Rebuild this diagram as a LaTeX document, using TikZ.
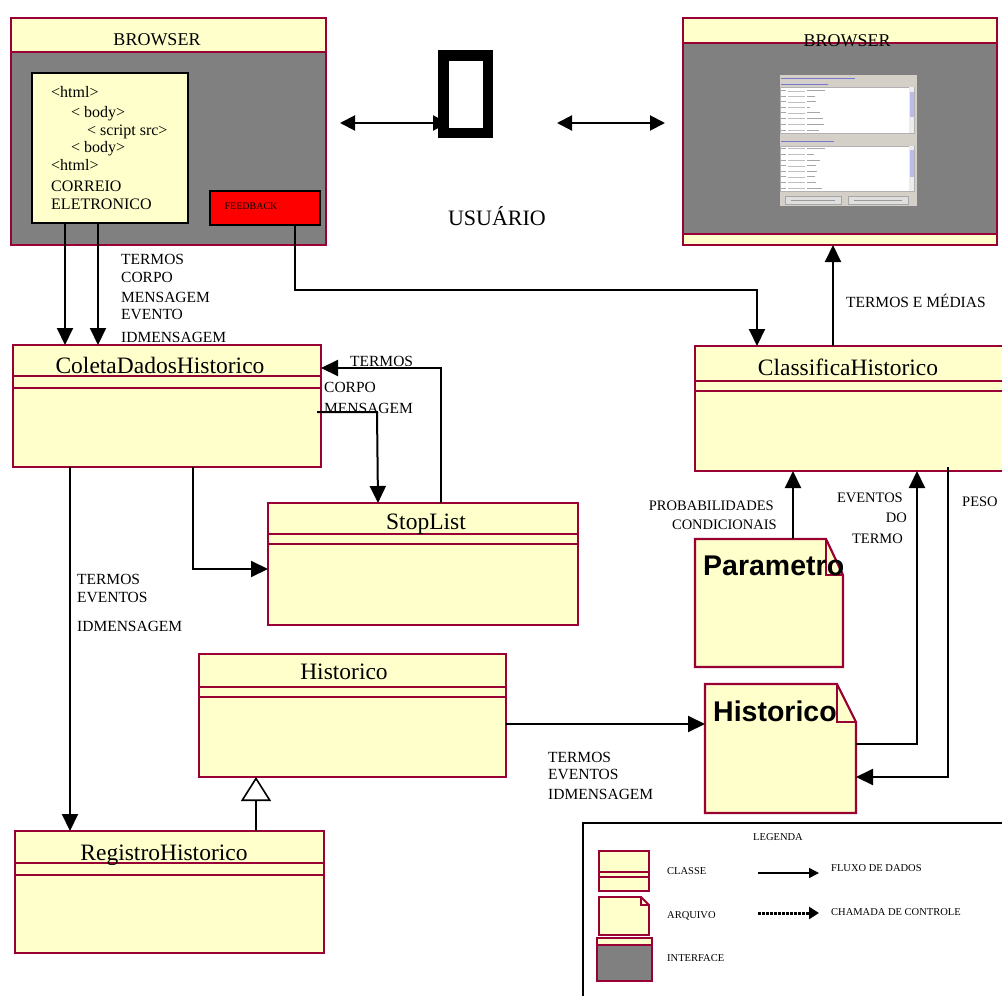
\documentclass[tikz,border=0pt]{standalone}
\usepackage{fontspec}
\setmainfont{Liberation Serif}
\newfontfamily\arialfont{Liberation Sans}
\usetikzlibrary{arrows.meta,calc}

\definecolor{crim}{RGB}{153,0,51}
\definecolor{paleyel}{RGB}{255,255,204}
\definecolor{ifgray}{RGB}{128,128,128}
\definecolor{wingray}{RGB}{212,208,200}
\definecolor{winblue}{RGB}{120,120,210}

\tikzset{
  classbox/.style={draw=crim, fill=paleyel, line width=2.2pt, anchor=north west,
    inner sep=0pt, outer sep=0pt},
  divider/.style={draw=crim, line width=2pt},
  classtitle/.style={anchor=base, inner sep=0pt, font=\fontsize{23.5}{24}\selectfont},
  filetitle/.style={anchor=base west, inner sep=0pt, font=\arialfont\bfseries\fontsize{28.5}{29}\selectfont},
  filebody/.style={draw=crim, fill=paleyel, line width=2.2pt, line join=miter},
  flow/.style={draw=black, line width=2pt, -{Triangle[length=17pt,width=16pt]}},
  twoway/.style={draw=black, line width=2pt, {Triangle[length=15pt,width=15pt]}-{Triangle[length=15pt,width=15pt]}},
  lbl/.style={anchor=base west, inner sep=0pt, font=\fontsize{15.5}{16}\selectfont},
  lblr/.style={anchor=base east, inner sep=0pt, font=\fontsize{14.5}{15}\selectfont},
  codetxt/.style={anchor=base west, inner sep=0pt, font=\fontsize{16}{18}\selectfont},
  legtxt/.style={anchor=base west, inner sep=0pt, font=\fontsize{10.5}{11}\selectfont},
  rowline/.style={draw=gray!70, line width=0.8pt},
}

\begin{document}
\begin{tikzpicture}[x=1pt, y=-1pt]
\path[use as bounding box] (0,0) rectangle (1002,996);
\clip (0,0) rectangle (1002,996);

% ---------- left browser window ----------
\node[classbox, fill=ifgray, minimum width=315, minimum height=227] (brL) at (11,18) {};
\fill[paleyel] (brL.north west) rectangle (brL.east |- 0,52);
\draw[crim, line width=2.2pt] (brL.north west) rectangle (brL.south east);
\draw[divider] (brL.west |- 0,52) -- (brL.east |- 0,52);
\node[anchor=base, inner sep=0pt, font=\fontsize{18}{18}\selectfont] (brLtitle) at (157,45) {BROWSER};

\node[draw=black, fill=paleyel, line width=2pt, anchor=north west, inner sep=0pt,
      minimum width=156, minimum height=150] (html) at (31,72) {};
\foreach \n/\x/\y/\t in {1/51/97/{<html>}, 2/71/117/{< body>}, 3/87/135/{< script src>},
    4/71/152/{< body>}, 5/51/170/{<html>}, 6/51/191/{CORREIO}, 7/51/209/{ELETRONICO}}
  \node[codetxt] (code\n) at (\x,\y) {\t};

\node[draw=black, fill=red, line width=2pt, anchor=north west, inner sep=0pt,
      minimum width=110, minimum height=34] (fb) at (209,190) {};
\node[anchor=base, inner sep=0pt, font=\fontsize{10}{10}\selectfont] (fbtxt) at (251,209.5) {FEEDBACK};

% ---------- user ----------
\node[draw=black, line width=10.5pt, anchor=north west, inner sep=0pt, outer sep=0pt,
      minimum width=44.5, minimum height=77.5] (usr) at (443.5,55.5) {};
\node[anchor=base, inner sep=0pt, font=\fontsize{22}{22}\selectfont] (usrtxt) at (497,225) {USUÁRIO};
\coordinate (lA) at (340,123);
\coordinate (rA1) at (557,123);
\coordinate (rA2) at (665,123);
\draw[twoway] (lA) -- ($(usr.west |- lA)+(4.5,0)$);
\draw[twoway] (rA1) -- (rA2);

% ---------- right browser window ----------
\node[classbox, fill=ifgray, minimum width=314, minimum height=227] (brR) at (683,18) {};
\fill[paleyel] (brR.north west) rectangle (brR.east |- 0,43);
\fill[paleyel] (brR.west |- 0,234) rectangle (brR.south east);
\draw[crim, line width=2.2pt] (brR.north west) rectangle (brR.south east);
\draw[divider] (brR.west |- 0,43) -- (brR.east |- 0,43);
\draw[divider] (brR.west |- 0,234) -- (brR.east |- 0,234);
\node[anchor=base, inner sep=0pt, font=\fontsize{18}{18}\selectfont] (brRtitle) at (847,46.5) {BROWSER};

% window screenshot inside the right browser
\begin{scope}
  \fill[wingray] (779,74) rectangle (917,206);
  \draw[gray, line width=0.6pt] (779,74) rectangle (917,206);
  \draw[winblue, line width=1pt] (781,78.5) -- (855,78.5);
  \draw[winblue, line width=1pt] (781,84) -- (828,84);
  \draw[winblue, line width=1pt] (781,141) -- (834,141);
  \foreach \ty/\by/\ta/\tb in {87/133/92/117, 146/191/150/177} {
    \fill[white] (780,\ty) rectangle (914,\by);
    \draw[gray!60, line width=0.5pt] (780,\ty) rectangle (914,\by);
    \fill[gray!15] (909,\ty) rectangle (914,\by);
    \fill[winblue!50] (909.5,\ta) rectangle (913.5,\tb);
  }
  \foreach \y/\w in {90.7/18, 96/8, 101.7/9, 107.3/3, 112.7/13, 118.3/16, 124.3/17, 130/12,
                     148.3/18, 154.3/7, 160/13, 165.7/9, 171/10, 176.7/8, 182.3/9, 188/15} {
    \draw[rowline] (781,\y) -- (786,\y);
    \draw[gray!50, line width=0.4pt] (788,\y) -- (805,\y);
    \draw[rowline] (807,\y) -- ++(\w,0);
  }
  \foreach \xa/\xb in {785/841, 848/908} {
    \fill[gray!25] (\xa,196) rectangle (\xb,204);
    \draw[gray!70, line width=0.5pt] (\xa,196) rectangle (\xb,204);
    \draw[gray!80, line width=0.8pt] (\xa+6,200) -- (\xb-6,200);
  }
\end{scope}

% ---------- classes ----------
\node[classbox, minimum width=308, minimum height=122] (coleta) at (13,345) {};
\draw[divider] (coleta.west |- 0,376) -- (coleta.east |- 0,376);
\draw[divider] (coleta.west |- 0,388) -- (coleta.east |- 0,388);
\node[classtitle] (coletaT) at (160,373) {ColetaDadosHistorico};

\node[classbox, minimum width=310, minimum height=122] (stop) at (268,503) {};
\draw[divider] (stop.west |- 0,534) -- (stop.east |- 0,534);
\draw[divider] (stop.west |- 0,544) -- (stop.east |- 0,544);
\node[classtitle] (stopT) at (426,529) {StopList};

\node[classbox, minimum width=330, minimum height=125] (classif) at (695,346) {};
\draw[divider] (classif.west |- 0,381) -- (classif.east |- 0,381);
\draw[divider] (classif.west |- 0,391) -- (classif.east |- 0,391);
\node[classtitle] (classifT) at (848,375) {ClassificaHistorico};

\node[classbox, minimum width=307, minimum height=123] (hist) at (199,654) {};
\draw[divider] (hist.west |- 0,687) -- (hist.east |- 0,687);
\draw[divider] (hist.west |- 0,697) -- (hist.east |- 0,697);
\node[classtitle] (histT) at (344,679) {Historico};

\node[classbox, minimum width=309, minimum height=122] (reg) at (15,831) {};
\draw[divider] (reg.west |- 0,863) -- (reg.east |- 0,863);
\draw[divider] (reg.west |- 0,875) -- (reg.east |- 0,875);
\node[classtitle] (regT) at (164,860) {RegistroHistorico};

% ---------- files ----------
\coordinate (paramNW) at (695,539);
\coordinate (paramSE) at (843,667);
\filldraw[filebody] (paramNW) -- (826,539) -- (843,575) -- (paramSE) -- (695,667) -- cycle;
\draw[crim, line width=2pt] (826,539) -- (826,575) -- (843,575);
\node[filetitle] (paramT) at (703,575) {Parametro};

\coordinate (hfNW) at (705,684);
\coordinate (hfSE) at (856,813);
\filldraw[filebody] (hfNW) -- (837,684) -- (856,722) -- (hfSE) -- (705,813) -- cycle;
\draw[crim, line width=2pt] (837,684) -- (837,722) -- (856,722);
\node[filetitle] (hfT) at (713,721) {Historico};

% ---------- connectors ----------
\draw[flow] (65,0 |- html.south) -- (65,0 |- coleta.north);
\draw[flow] (98,0 |- html.south) -- (98,0 |- coleta.north);
\draw[flow] (295,0 |- fb.south) -- (295,290) -- (757,290) -- (757,0 |- classif.north);
\draw[flow] (833,0 |- classif.north) -- (833,0 |- brR.south);

\draw[flow] (317,412) -- (377,412) -- (378,0 |- stop.north);
\draw[flow] (441,0 |- stop.north) -- (441,368) -- (coleta.east |- 0,368);
\draw[flow] (193,0 |- coleta.south) -- (193,569) -- (stop.west |- 0,569);
\draw[flow] (70,0 |- coleta.south) -- (70,0 |- reg.north);

\draw[line width=1.6pt, -{Triangle[open,length=24pt,width=30pt,fill=white]}]
  (256,0 |- reg.north) -- (256,0 |- hist.south);

\draw[flow] (hist.east |- 0,724) -- (hfNW |- 0,724);
\draw[flow] (793,0 |- paramNW) -- (793,0 |- classif.south);
\draw[flow] (hfSE |- 0,744) -- (917,744) -- (917,0 |- classif.south);
\draw[flow] (948,467) -- (948,777) -- (hfSE |- 0,777);

% ---------- connector labels ----------
\node[lbl] (l1) at (121,264) {TERMOS};
\node[lbl] (l2) at (121,282) {CORPO};
\node[lbl] (l3) at (121,302) {MENSAGEM};
\node[lbl] (l4) at (121,319) {EVENTO};
\node[lbl] (l5) at (121,342) {IDMENSAGEM};

\node[lbl] (s1) at (350,366) {TERMOS};
\node[lbl] (s2) at (324,392) {CORPO};
\node[lbl] (s3) at (324,413) {MENSAGEM};

\node[lbl] (r1) at (77,584) {TERMOS};
\node[lbl] (r2) at (77,602) {EVENTOS};
\node[lbl] (r3) at (77,631) {IDMENSAGEM};

\node[lbl] (h1) at (548,762) {TERMOS};
\node[lbl] (h2) at (548,779) {EVENTOS};
\node[lbl] (h3) at (548,799) {IDMENSAGEM};

\node[lbl] (tm) at (846,307) {TERMOS E MÉDIAS};

\node[lblr] (p1) at (774,510) {PROBABILIDADES};
\node[lblr] (p2) at (777,529) {CONDICIONAIS};
\node[lblr] (e1) at (903,502) {EVENTOS};
\node[lblr] (e2) at (907,522) {DO};
\node[lblr] (e3) at (903,543) {TERMO};
\node[anchor=base west, inner sep=0pt, font=\fontsize{14.5}{15}\selectfont] (peso) at (962,506) {PESO};

% ---------- legend ----------
\node[draw=black, line width=1.6pt, anchor=north west, inner sep=0pt,
      minimum width=440, minimum height=200] (leg) at (582,822) {};
\node[anchor=base, inner sep=0pt, font=\fontsize{10.5}{11}\selectfont] (legT) at (778,840) {LEGENDA};

\node[classbox, line width=1.8pt, minimum width=50, minimum height=40] (legCls) at (599,851) {};
\draw[crim, line width=1.6pt] (legCls.west |- 0,872) -- (legCls.east |- 0,872);
\draw[crim, line width=1.6pt] (legCls.west |- 0,877) -- (legCls.east |- 0,877);
\node[legtxt] (legClsT) at (667,874) {CLASSE};

\filldraw[filebody, line width=1.8pt] (599,897) -- (641,897) -- (649,905) -- (649,935) -- (599,935) -- cycle;
\draw[crim, line width=1.2pt] (641,897) -- (641,905) -- (649,905);
\node[legtxt] (legFileT) at (667,918) {ARQUIVO};

\node[classbox, fill=ifgray, line width=1.8pt, minimum width=55, minimum height=43] (legIf) at (597,938) {};
\fill[paleyel] (legIf.north west) rectangle (legIf.east |- 0,945);
\draw[crim, line width=1.8pt] (legIf.north west) rectangle (legIf.south east);
\draw[crim, line width=1.6pt] (legIf.west |- 0,945) -- (legIf.east |- 0,945);
\node[legtxt] (legIfT) at (667,961) {INTERFACE};

\coordinate (fluxA) at (758,873);
\coordinate (fluxB) at (819,873);
\draw[line width=1.5pt, -{Triangle[length=10pt,width=10pt]}] (fluxA) -- (fluxB);
\node[legtxt] (fluxT) at (831,871.5) {FLUXO DE DADOS};

\coordinate (ctrlA) at (758,913);
\coordinate (ctrlB) at (819,913);
\draw[line width=3pt, dash pattern=on 2.5pt off 1.5pt, -{Triangle[length=10pt,width=12pt]}] (ctrlA) -- (ctrlB);
\node[legtxt] (ctrlT) at (831,915) {CHAMADA DE CONTROLE};

\end{tikzpicture}
\end{document}
